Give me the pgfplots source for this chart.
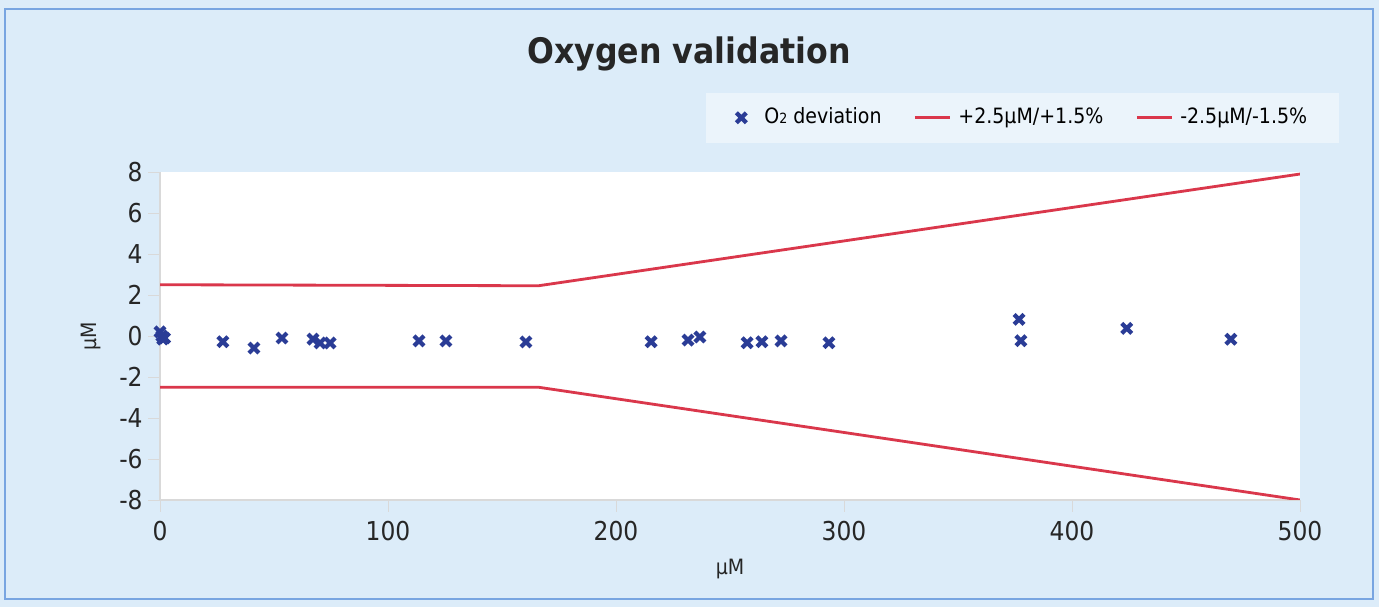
\documentclass[border=0pt]{standalone}
\usepackage{fontspec}
\setmainfont{DejaVu Sans Condensed}
\usepackage{pgfplots}
\pgfplotsset{compat=1.18}
\definecolor{bgblue}{RGB}{220,236,249}
\definecolor{frameblue}{RGB}{120,165,225}
\definecolor{markblue}{RGB}{42,60,150}
\definecolor{limred}{RGB}{218,55,75}
\pgfplotsset{
  shortline/.style={legend image code/.code={\draw[##1] (0mm,0mm) -- (3.5mm,0mm);}},
  markonly/.style={legend image code/.code={\path[draw=none,fill=none] (0mm,0mm) -- (2.6mm,0mm);\draw[##1] plot coordinates {(1.0mm,0mm)};}},
}
\begin{document}
\begin{tikzpicture}
\useasboundingbox (0,0) rectangle (137.9mm,60.7mm);
\fill[bgblue] (0,0) rectangle (137.9mm,60.7mm);
\draw[frameblue,line width=0.25mm] (0.5mm,0.8mm) rectangle (137.3mm,59.8mm);
\node[font=\bfseries\fontsize{10}{12}\selectfont,text=black!85] at (68.9mm,55.3mm) {Oxygen validation};
\begin{axis}[
  at={(16mm,10.7mm)}, anchor=south west,
  scale only axis, width=114mm, height=32.8mm,
  xmin=0, xmax=500, ymin=-8, ymax=8,
  xtick={0,100,...,500}, ytick={-8,-6,...,8},
  axis background/.style={fill=white},
  axis x line=bottom, axis y line=left,
  axis line style={draw=black!15,-},
  x axis line style={-}, y axis line style={-},
  tick style={draw=black!15},
  major tick length=1.2mm,
  tick align=outside,
  /pgf/number format/assume math mode=true,
  ticklabel style={font=\fontsize{7.4}{8}\selectfont,text=black!85},
  xticklabel style={yshift=0.3mm},
  yticklabel style={xshift=0.7mm},
  xlabel={µM}, ylabel={µM},
  label style={font=\fontsize{6}{7}\selectfont,text=black!85},
  xlabel style={yshift=0.6mm},
  ylabel style={yshift=-0.6mm},
  legend columns=3,
  legend style={at={(1.035,1.244)}, anchor=north east, draw=none,
    fill=white, fill opacity=0.45, text opacity=1,
    font=\fontsize{6}{7}\selectfont, inner xsep=2.5mm, inner ysep=0.75mm,
    /tikz/every even column/.append style={column sep=2.5mm}},
  legend cell align=left,
]
\addplot[only marks, mark=x, mark size=2.0pt, line width=1.2pt, color=markblue, markonly]
coordinates {
(0,0.2) (0.8,0.0) (2,-0.1) (1.2,-0.15)
(27.6,-0.28) (41.2,-0.59) (53.5,-0.1) (67.1,-0.15) (70.2,-0.34) (74.6,-0.34)
(113.6,-0.24) (125.4,-0.24) (160.5,-0.29)
(215.4,-0.28) (231.6,-0.2) (236.8,-0.05) (257.5,-0.33) (264,-0.28) (272.4,-0.24) (293.4,-0.33)
(376.8,0.81) (377.6,-0.23) (424,0.37) (469.7,-0.16)
};
\addlegendentry{O{\fontsize{4}{4}\selectfont 2} deviation}
\addplot[limred, line width=0.8pt, shortline]
coordinates {(0,2.5) (166,2.45) (500,7.9)};
\addlegendentry{+2.5µM/+1.5\%}
\addplot[limred, line width=0.8pt, shortline]
coordinates {(0,-2.5) (166,-2.5) (500,-8)};
\addlegendentry{-2.5µM/-1.5\%}
\end{axis}
\end{tikzpicture}
\end{document}
